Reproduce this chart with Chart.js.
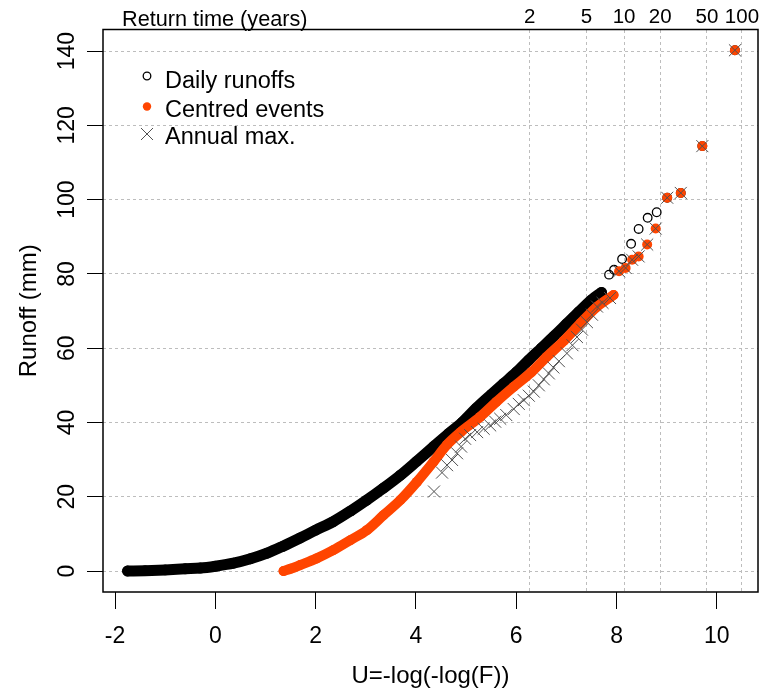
<!DOCTYPE html>
<html lang="en">
<head>
<meta charset="UTF-8">
<title>Runoff frequency plot</title>
<script src="https://cdn.jsdelivr.net/npm/chart.js@4"></script>
<style>
  html, body { margin: 0; padding: 0; background: #fff; }
  #wrap { width: 768px; height: 693px; }
</style>
</head>
<body>
<div id="wrap"><canvas id="runoffChart" width="768" height="693"></canvas></div>
<script>
// axis ticks
const xTickValues = [-2, 0, 2, 4, 6, 8, 10];
const yTickValues = [0, 20, 40, 60, 80, 100, 120, 140];
const returnYears = [2, 5, 10, 20, 50, 100];
const daysPerYear = 365;

// daily runoffs - the dense band (U, mm) read along its centre
const dailyBandU = [-1.75, -1.4, -1.0, -0.6, -0.3, 0.0, 0.36, 0.7, 1.03, 1.35, 1.69, 2.0, 2.35, 2.7, 3.02, 3.35, 3.69, 4.02, 4.35, 4.65, 4.92, 5.2, 5.5, 5.75, 6.0, 6.25, 6.5, 6.75, 7.0, 7.25, 7.5, 7.7];
const dailyBandQ = [0, 0.1, 0.3, 0.6, 0.8, 1.3, 2.1, 3.3, 4.8, 6.7, 8.9, 11, 13.3, 16.2, 19.1, 22.3, 25.8, 29.6, 33.5, 37, 40, 43.8, 47.5, 50.5, 53.5, 56.8, 60, 63.2, 66.5, 69.8, 73, 75];
// daily runoffs - single points above the band
const dailyTailU = [7.85, 7.95, 8.11, 8.29, 8.44, 8.62, 8.80, 9.01, 9.28, 9.71, 10.36];
const dailyTailQ = [79.8, 81.1, 84.0, 88.1, 92.1, 95.1, 96.6, 100.5, 101.8, 114.4, 140.2];

// centred events
const eventBandU = [1.36, 1.5, 1.69, 2.02, 2.35, 2.69, 3.02, 3.35, 3.69, 4.02, 4.35, 4.62, 4.9, 5.28, 5.6, 5.95, 6.3, 6.61, 6.95, 7.28, 7.6, 7.94];
const eventBandQ = [0, 0.6, 1.6, 3.4, 5.6, 8.3, 11, 15, 19.1, 24, 29.4, 34, 37.5, 41.5, 45.5, 49.6, 53.5, 57.7, 62, 66.7, 71, 74.3];
const eventTailU = [8.05, 8.18, 8.31, 8.44, 8.61, 8.78, 9.01, 9.28, 9.71, 10.36];
const eventTailQ = [80.7, 81.6, 83.8, 84.7, 87.9, 92.2, 100.5, 101.8, 114.4, 140.2];

// annual maxima
const annualU = [4.36, 4.52, 4.62, 4.72, 4.82, 4.9, 4.98, 5.08, 5.22, 5.35, 5.48, 5.58, 5.68, 5.8, 5.95, 6.05, 6.15, 6.25, 6.35, 6.45, 6.55, 6.65, 6.74, 6.85, 7.01, 7.12, 7.21, 7.31, 7.41, 7.51, 7.61, 7.72, 7.87, 8.05, 8.18, 8.31, 8.44, 8.61, 8.78, 9.01, 9.28, 9.71, 10.36];
const annualQ = [21.4, 26.5, 28.5, 29.9, 31.7, 33.5, 35.6, 36.6, 37.4, 38.3, 39.2, 40.2, 41, 42, 43.6, 45, 46, 47.2, 48.3, 50, 51.6, 53.2, 54.8, 56.5, 58.6, 60.8, 63, 65, 67, 69, 71.2, 72.2, 73.5, 80.7, 81.6, 83.8, 84.7, 87.9, 92.2, 100.5, 101.8, 114.4, 140.2];

const orange = '#ff4500';
const crossGrey = '#505050';
const gridColor = '#bdbdbd';
const fontFamily = '"Liberation Sans", Arial, sans-serif';

// position of a return period T (years) on the daily U axis
function gumbelU(T) {
    return Math.log(daysPerYear) - Math.log(-Math.log(1 - 1 / T));
}

function toPoints(us, qs) {
    return us.map((u, i) => ({ x: u, y: qs[i] }));
}

const frameAndText = {
    id: 'frameAndText',
    afterDatasetsDraw(chart) {
        const { ctx, chartArea } = chart;
        const yScale = chart.scales.y;
        ctx.save();

        // box
        ctx.strokeStyle = '#000';
        ctx.lineWidth = 1.5;
        ctx.strokeRect(chartArea.left, chartArea.top, chartArea.right - chartArea.left, chartArea.bottom - chartArea.top);

        // rotated y tick labels
        ctx.fillStyle = '#000';
        ctx.font = '23px ' + fontFamily;
        ctx.textAlign = 'center';
        ctx.textBaseline = 'middle';
        yTickValues.forEach(v => {
            ctx.save();
            ctx.translate(chartArea.left - 35, yScale.getPixelForValue(v));
            ctx.rotate(-Math.PI / 2);
            ctx.fillText(String(v), 0, 0);
            ctx.restore();
        });

        // top axis caption
        ctx.font = '21.7px ' + fontFamily;
        ctx.textAlign = 'left';
        ctx.textBaseline = 'alphabetic';
        ctx.fillText('Return time (years)', 122, 26);

        // legend
        const lx = 147;
        ctx.lineWidth = 1.3;
        ctx.strokeStyle = '#000';
        ctx.beginPath();
        ctx.arc(lx, 76, 3.8, 0, Math.PI * 2);
        ctx.stroke();

        ctx.fillStyle = orange;
        ctx.beginPath();
        ctx.arc(lx, 106.5, 4.2, 0, Math.PI * 2);
        ctx.fill();

        ctx.strokeStyle = crossGrey;
        ctx.lineWidth = 1;
        ctx.beginPath();
        ctx.moveTo(lx - 6, 128); ctx.lineTo(lx + 6, 140);
        ctx.moveTo(lx - 6, 140); ctx.lineTo(lx + 6, 128);
        ctx.stroke();

        ctx.fillStyle = '#000';
        ctx.font = '23.5px ' + fontFamily;
        ctx.fillText('Daily runoffs', 165, 88);
        ctx.fillText('Centred events', 165, 116.5);
        ctx.fillText('Annual max.', 165, 143.5);

        ctx.restore();
    }
};

const xMin = -2.24, xMax = 10.82;

const chart = new Chart(document.getElementById('runoffChart'), {
    type: 'scatter',
    data: {
        datasets: [
            {
                label: 'Annual max.',
                data: toPoints(annualU, annualQ),
                showLine: false,
                pointStyle: 'crossRot',
                pointRadius: 8.5,
                borderColor: crossGrey,
                backgroundColor: crossGrey,
                pointBorderWidth: 1,
                order: 1
            },
            {
                label: 'Centred events',
                data: toPoints(eventTailU, eventTailQ),
                showLine: false,
                pointStyle: 'circle',
                pointRadius: 5,
                backgroundColor: orange,
                borderColor: orange,
                pointBorderWidth: 0,
                order: 2
            },
            {
                label: 'Centred events (dense)',
                data: toPoints(eventBandU, eventBandQ),
                showLine: true,
                borderColor: orange,
                borderWidth: 10,
                borderCapStyle: 'round',
                borderJoinStyle: 'round',
                cubicInterpolationMode: 'monotone',
                pointRadius: 5,
                pointBackgroundColor: orange,
                pointBorderWidth: 0,
                order: 3
            },
            {
                label: 'Daily runoffs',
                data: toPoints(dailyTailU, dailyTailQ),
                showLine: false,
                pointStyle: 'circle',
                pointRadius: 4.3,
                borderColor: '#000',
                backgroundColor: 'rgba(0,0,0,0)',
                pointBorderWidth: 1.3,
                order: 4
            },
            {
                label: 'Daily runoffs (dense)',
                data: toPoints(dailyBandU, dailyBandQ),
                showLine: true,
                borderColor: '#000',
                borderWidth: 11,
                borderCapStyle: 'round',
                borderJoinStyle: 'round',
                cubicInterpolationMode: 'monotone',
                pointRadius: 4.8,
                pointBorderColor: '#000',
                pointBackgroundColor: 'rgba(0,0,0,0)',
                pointBorderWidth: 1.3,
                order: 5
            }
        ]
    },
    options: {
        responsive: false,
        animation: false,
        devicePixelRatio: 1,
        events: [],
        layout: { padding: { left: 0, right: 10, top: 0, bottom: 0 } },
        plugins: {
            legend: { display: false },
            tooltip: { enabled: false }
        },
        scales: {
            x: {
                type: 'linear',
                position: 'bottom',
                min: xMin,
                max: xMax,
                afterBuildTicks: s => { s.ticks = xTickValues.map(v => ({ value: v })); },
                afterFit: s => { s.height = 101; s.paddingLeft = 0; s.paddingRight = 0; },
                grid: { drawOnChartArea: false, drawTicks: true, tickLength: 17, tickColor: '#000', tickWidth: 1 },
                border: { display: false },
                ticks: {
                    color: '#000',
                    font: { family: fontFamily, size: 23 },
                    padding: 14,
                    autoSkip: false,
                    maxRotation: 0,
                    minRotation: 0
                },
                title: {
                    display: true,
                    text: 'U=-log(-log(F))',
                    color: '#000',
                    font: { family: fontFamily, size: 24 },
                    padding: { top: 0, bottom: 2 }
                }
            },
            xTop: {
                type: 'linear',
                position: 'top',
                min: xMin,
                max: xMax,
                afterBuildTicks: s => { s.ticks = returnYears.map(T => ({ value: gumbelU(T) })); },
                afterFit: s => { s.height = 29.5; s.paddingLeft = 0; s.paddingRight = 0; },
                grid: { drawTicks: false, color: gridColor, lineWidth: 1, borderDash: [3, 3] },
                border: { display: false, dash: [3, 3] },
                ticks: {
                    color: '#000',
                    font: { family: fontFamily, size: 20.5 },
                    padding: 0,
                    autoSkip: false,
                    maxRotation: 0,
                    minRotation: 0,
                    callback: (v, i) => String(returnYears[i])
                }
            },
            y: {
                type: 'linear',
                min: -5.65,
                max: 145.8,
                afterBuildTicks: s => { s.ticks = yTickValues.map(v => ({ value: v })); },
                afterFit: s => { s.width = 103; s.paddingTop = 0; s.paddingBottom = 0; },
                grid: {
                    color: gridColor,
                    lineWidth: 1,
                    borderDash: [3, 3],
                    tickLength: 16,
                    tickColor: '#000',
                    tickWidth: 1,
                    tickBorderDash: []
                },
                border: { display: false, dash: [3, 3] },
                ticks: { color: 'rgba(0,0,0,0)', font: { family: fontFamily, size: 22 } },
                title: {
                    display: true,
                    text: 'Runoff (mm)',
                    color: '#000',
                    font: { family: fontFamily, size: 24 },
                    padding: { top: 15, bottom: 0 }
                }
            }
        }
    },
    plugins: [frameAndText]
});
</script>
</body>
</html>
